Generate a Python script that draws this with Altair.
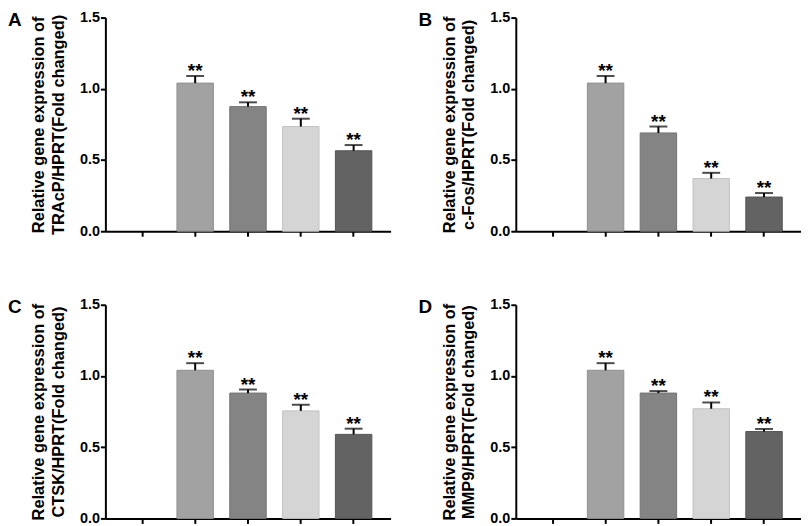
import altair as alt
import pandas as pd

groups = ["Control", "G1", "G2", "G3", "G4"]
bar_groups = ["G1", "G2", "G3", "G4"]
bar_colors = ["#a2a2a2", "#848484", "#d5d5d5", "#636363"]
bar_strokes = ["#8f8f8f", "#737373", "#c2c2c2", "#555555"]

letters = ["A", "B", "C", "D"]
title_line1 = "Relative gene expression of"
title_line2 = ["TRAcP/HPRT(Fold changed)", "c-Fos/HPRT(Fold changed)",
               "CTSK/HPRT(Fold changed)", "MMP9/HPRT(Fold changed)"]

means_A = [1.04, 0.875, 0.735, 0.565]
errs_A = [0.05, 0.03, 0.055, 0.04]
means_B = [1.04, 0.69, 0.37, 0.24]
errs_B = [0.05, 0.045, 0.04, 0.028]
means_C = [1.04, 0.88, 0.755, 0.59]
errs_C = [0.05, 0.025, 0.043, 0.04]
means_D = [1.04, 0.88, 0.77, 0.61]
errs_D = [0.05, 0.014, 0.044, 0.018]
stars = ["**", "**", "**", "**"]

y_ticks = [0.0, 0.5, 1.0, 1.5]

FONT = "Liberation Sans"
W, H = 287, 215


def panel(letter, t2, means, errs):
    df = pd.DataFrame({
        "group": bar_groups,
        "mean": means,
        "upper": [m + e for m, e in zip(means, errs)],
        "star": stars,
    })
    x = alt.X("group:N",
              scale=alt.Scale(domain=groups, paddingInner=0.31, paddingOuter=0.355),
              axis=alt.Axis(labels=False, title=None, tickSize=5, tickWidth=2,
                            domainWidth=2, domainColor="black", tickColor="black",
                            grid=False))
    yscale = alt.Scale(domain=[0, 1.5])
    yaxis = alt.Axis(values=y_ticks, format=".1f", title=[title_line1, t2],
                     tickSize=5, tickWidth=2, domainWidth=2, domainColor="black",
                     tickColor="black", grid=False, labelPadding=1,
                     titlePadding=13, titleLineHeight=20,
                     labelFont=FONT, labelFontSize=14.5, labelFontWeight="bold",
                     labelColor="black", titleFont=FONT, titleFontSize=16.5,
                     titleFontWeight="bold", titleColor="black")
    base = alt.Chart(df)
    bars = base.mark_bar(strokeWidth=1).encode(
        x=x,
        y=alt.Y("mean:Q", scale=yscale, axis=yaxis),
        fill=alt.Fill("group:N", scale=alt.Scale(domain=bar_groups, range=bar_colors), legend=None),
        stroke=alt.Stroke("group:N", scale=alt.Scale(domain=bar_groups, range=bar_strokes), legend=None),
    )
    err = base.mark_rule(color="black", strokeWidth=2).encode(
        x=x, y=alt.Y("mean:Q", scale=yscale), y2="upper:Q")
    cap = base.mark_tick(color="black", size=18, thickness=2).encode(
        x=x, y=alt.Y("upper:Q", scale=yscale))
    txt = base.mark_text(font=FONT, fontSize=19, fontWeight="bold", baseline="alphabetic",
                         dy=1, color="black").encode(
        x=x, y=alt.Y("upper:Q", scale=yscale), text="star:N")
    lab = alt.Chart(pd.DataFrame({"t": [letter]})).mark_text(
        font=FONT, fontSize=19, fontWeight="bold", align="left", baseline="top",
        color="black").encode(x=alt.value(-98), y=alt.value(-7), text="t:N")
    return alt.layer(bars, err, cap, txt, lab).properties(width=W, height=H)


pA = panel(letters[0], title_line2[0], means_A, errs_A)
pB = panel(letters[1], title_line2[1], means_B, errs_B)
pC = panel(letters[2], title_line2[2], means_C, errs_C)
pD = panel(letters[3], title_line2[3], means_D, errs_D)

chart = alt.vconcat(
    alt.hconcat(pA, pB, spacing=28),
    alt.hconcat(pC, pD, spacing=28),
    spacing=59,
).properties(padding=0, background="white").configure_view(stroke=None)

chart.save("out.html", embed_options={"renderer": "svg", "actions": False})
